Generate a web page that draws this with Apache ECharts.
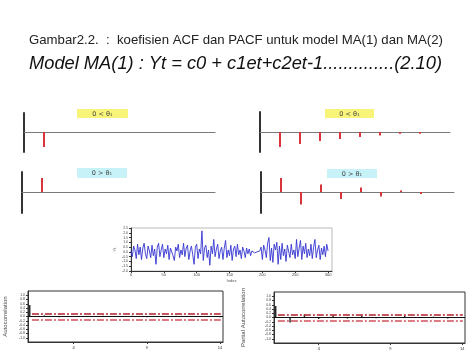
<!DOCTYPE html>
<html><head><meta charset="utf-8">
<script src="https://cdn.jsdelivr.net/npm/echarts@6/dist/echarts.min.js"></script>
<style>html,body{margin:0;padding:0;background:#fff}#c{width:474px;height:355px}</style>
</head><body><div id="c"></div>
<script>
// ---- text ----
const captionText = "Gambar2.2.  :  koefisien ACF dan PACF untuk model MA(1) dan MA(2)";
const equationText = "Model MA(1) : Yt = c0 + c1et+c2et-1..............(2.10)";
const panelLabels = ["0 < \u03B8\u2081", "0 > \u03B8\u2081"];

// ---- theoretical ACF / PACF panels (lag, value) ----
const theoryLags = [1, 2, 3, 4, 5, 6, 7, 8];
const acfThetaPos = [-0.75];
const acfThetaNeg = [0.7];
const pacfThetaPos = [-0.75, -0.6, -0.45, -0.35, -0.25, -0.18, -0.085, -0.085];
const pacfThetaNeg = [0.7, -0.63, 0.37, -0.35, 0.23, -0.22, 0.07, -0.1];

// ---- simulated MA(1) series ----
const seriesValues = [
 0.1,-0.5,0.6,0.2,-0.7,0.8,-0.3,0.5,-0.8,0.4,0.9,-0.2,-0.7,0.6,0.1,-0.6,0.7,-0.4,0.3,-1.3,
 0.5,0.9,-0.5,0.2,0.8,-0.6,0.3,-0.2,0.7,-0.8,0.4,0.6,-0.4,-0.9,0.5,0.1,0.8,-0.6,0.2,-0.3,
 0.9,-0.5,0.4,0.7,-0.8,0.1,0.6,-0.3,-1.3,0.5,0.8,-0.7,0.3,-0.2,2.2,-0.9,0.4,0.7,-0.6,0.2,
 -1.4,0.6,-0.2,1.3,-0.5,0.3,0.8,-0.7,0.1,0.5,-0.8,0.4,1.2,-0.6,0.2,-0.4,0.7,-0.9,0.3,0.6,
 -0.5,0.8,-0.3,0.2,-0.7,0.5,0.1,-0.6,0.4,-0.2,0.3,-0.4,0.1,0.05,-0.1,0.1,0.0,-0.15,0.1,0.5,
 -0.8,0.7,0.2,-0.6,0.9,1.5,-0.9,0.4,-1.1,0.8,0.2,1.0,-1.3,0.6,-0.8,0.9,-0.4,0.3,-1.0,0.7,
 0.5,-0.6,0.8,-0.3,0.2,-0.7,1.3,-0.5,0.4,1.2,-0.8,0.6,-0.2,0.9,-0.6,0.3,-0.4,0.8,-0.7,0.5,
 1.3,-0.6,0.2,0.7,-0.8,0.4,-0.3,0.6,-0.5,0.8,0.1
];
const seriesStep = 2;
const seriesTicks = [0, 50, 100, 150, 200, 250, 300];
const seriesYName = "Yt";
const seriesXName = "Index";

// ---- sample ACF / PACF ----
const sampleLags = [1,2,3,4,5,6,7,8,9,10,11,12,13,14];
const sampleAcf  = [0.54,0.05,-0.03,0.02,-0.02,0.03,-0.02,0.04,-0.03,0.02,0.03,-0.02,0.02,-0.03];
const samplePacf = [0.54,-0.23,0.14,-0.07,0.10,-0.05,0.10,-0.03,0.02,0.08,-0.02,0.04,-0.05,0.02];
const confLimit = 0.13;
const lagTickLabels = [4, 9, 14];
const corrTicks = [-1,-0.8,-0.6,-0.4,-0.2,0,0.2,0.4,0.6,0.8,1];
const acfName = "Autocorrelation";
const pacfName = "Partial Autocorrelation";

const pairs = (xs, ys) => ys.map((v, i) => [xs[i], v]);

const chart = echarts.init(document.getElementById('c'), null, {renderer: 'canvas'});

function theoryGrid(left, top, width, height) {
  return {left, top, width, height, containLabel: false};
}
function theoryX(gi, max) {
  return {type: 'value', gridIndex: gi, min: 0, max: max,
    axisLine: {show: true, onZero: true, lineStyle: {color: '#7a7a7a', width: 1}},
    axisTick: {show: false}, axisLabel: {show: false}, splitLine: {show: false}};
}
function theoryY(gi, min, max) {
  return {type: 'value', gridIndex: gi, min, max,
    axisLine: {show: true, onZero: false, lineStyle: {color: '#333', width: 2}},
    axisTick: {show: false}, axisLabel: {show: false}, splitLine: {show: false}};
}
function spikes(gi, data) {
  return {type: 'bar', xAxisIndex: gi, yAxisIndex: gi, data: data, barWidth: 2,
    itemStyle: {color: '#d8343a'}, silent: true, animation: false};
}
function corrX(gi) {
  return {type: 'value', gridIndex: gi, min: 0.88, max: 14.2,
    axisLine: {show: true, onZero: false, lineStyle: {color: '#333', width: 1}},
    axisTick: {show: true, length: 2, customValues: lagTickLabels, lineStyle: {color: '#333'}},
    axisLabel: {show: true, customValues: lagTickLabels, fontSize: 4, color: '#333', margin: 4},
    splitLine: {show: false}};
}
function corrY(gi, name, gap) {
  return {type: 'value', gridIndex: gi, min: -1.2, max: 1.2,
    name: name, nameLocation: 'middle', nameGap: gap, nameRotate: 90,
    nameTextStyle: {fontSize: 6, color: '#444', fontFamily: 'Liberation Sans'},
    axisLine: {show: true, onZero: false, lineStyle: {color: '#333', width: 1}},
    axisTick: {show: true, length: 2, customValues: corrTicks, lineStyle: {color: '#333'}},
    axisLabel: {show: true, customValues: corrTicks, fontSize: 3.5, color: '#444', margin: 3,
      formatter: v => v.toFixed(1)},
    splitLine: {show: false}};
}
function corrSeries(gi, lags, vals) {
  return {type: 'bar', xAxisIndex: gi, yAxisIndex: gi, data: pairs(lags, vals), barWidth: 1.4,
    itemStyle: {color: '#222'}, silent: true, animation: false,
    markLine: {silent: true, symbol: 'none', label: {show: false}, animation: false,
      data: [
        [{coord: [1.15, confLimit], lineStyle: {color: '#b3202a', width: 1.6, type: [7, 2, 2, 2]}}, {coord: [14.05, confLimit]}],
        [{coord: [1.15, -confLimit], lineStyle: {color: '#d0505c', width: 1.6, type: [7, 2, 2, 2]}}, {coord: [14.05, -confLimit]}],
        [{coord: [0.88, 0], lineStyle: {color: '#111', width: 1, type: 'solid'}}, {coord: [14.2, 0]}]
      ]}};
}

function labelBox(x, y, w, h, fill, text) {
  return {type: 'group', left: x, top: y, children: [
    {type: 'rect', shape: {x: 0, y: 0, width: w, height: h}, style: {fill: fill}},
    {type: 'text', style: {x: w / 2, y: h / 2 + 0.5, text: text, fill: '#444', fontSize: 6.5,
      fontFamily: 'DejaVu Sans', align: 'center', verticalAlign: 'middle'}}
  ]};
}

const option = {
  animation: false,
  backgroundColor: '#fff',
  title: [
    {text: captionText, left: 29, top: 34, padding: 0,
      textStyle: {fontSize: 13.2, fontWeight: 'normal', color: '#222', fontFamily: 'Liberation Sans'}},
    {text: equationText, left: 29, top: 55, padding: 0,
      textStyle: {fontSize: 18.3, fontWeight: 'normal', fontStyle: 'italic', color: '#111', fontFamily: 'Liberation Sans'}}
  ],
  grid: [
    theoryGrid(24, 113, 191, 39),
    theoryGrid(260, 112, 190, 40),
    theoryGrid(22, 172, 193, 41),
    theoryGrid(261, 172, 193, 41),
    {left: 131, top: 228, width: 201, height: 43, show: true, borderColor: '#bbb', borderWidth: 1},
    {left: 28, top: 291, width: 195, height: 51, show: true, borderColor: '#333', borderWidth: 1},
    {left: 274, top: 292, width: 191, height: 51, show: true, borderColor: '#333', borderWidth: 1}
  ],
  xAxis: [
    theoryX(0, 9.55), theoryX(1, 9.5), theoryX(2, 9.65), theoryX(3, 9.65),
    {type: 'value', gridIndex: 4, min: 0, max: 306,
      name: seriesXName, nameLocation: 'middle', nameGap: 8,
      nameTextStyle: {fontSize: 4, color: '#555'},
      axisLine: {show: true, onZero: false, lineStyle: {color: '#333', width: 1}},
      axisTick: {show: true, length: 2, customValues: seriesTicks, lineStyle: {color: '#333'}},
      axisLabel: {show: true, customValues: seriesTicks, fontSize: 4, color: '#444', margin: 2},
      splitLine: {show: false}},
    corrX(5), corrX(6)
  ],
  yAxis: [
    theoryY(0, -1, 0.95), theoryY(1, -1, 1), theoryY(2, -1.05, 1), theoryY(3, -1.05, 1),
    {type: 'value', gridIndex: 4, min: -2, max: 2.5, interval: 0.5,
      name: seriesYName, nameLocation: 'middle', nameGap: 14, nameRotate: 90,
      nameTextStyle: {fontSize: 4, color: '#555'},
      axisLine: {show: true, onZero: false, lineStyle: {color: '#333', width: 1}},
      axisTick: {show: true, length: 2, lineStyle: {color: '#333'}},
      axisLabel: {show: true, fontSize: 3.5, color: '#444', margin: 3, formatter: v => v.toFixed(1)},
      splitLine: {show: false}},
    corrY(5, acfName, 20), corrY(6, pacfName, 28)
  ],
  series: [
    spikes(0, pairs(theoryLags, acfThetaPos)),
    spikes(1, pairs(theoryLags, pacfThetaPos)),
    spikes(2, pairs(theoryLags, acfThetaNeg)),
    spikes(3, pairs(theoryLags, pacfThetaNeg)),
    {type: 'line', xAxisIndex: 4, yAxisIndex: 4, data: seriesValues.map((v, i) => [i * seriesStep, v]),
      symbol: 'none', lineStyle: {color: '#3434d0', width: 0.9}, silent: true, animation: false},
    corrSeries(5, sampleLags, sampleAcf),
    corrSeries(6, sampleLags, samplePacf)
  ],
  graphic: [
    labelBox(77, 109, 51, 9, '#f8f47a', panelLabels[0]),
    labelBox(325, 109, 49, 9, '#f8f47a', panelLabels[0]),
    labelBox(77, 168, 50, 10, '#c6f2f8', panelLabels[1]),
    labelBox(327, 169, 50, 9, '#c6f2f8', panelLabels[1])
  ]
};
chart.setOption(option);
</script></body></html>
